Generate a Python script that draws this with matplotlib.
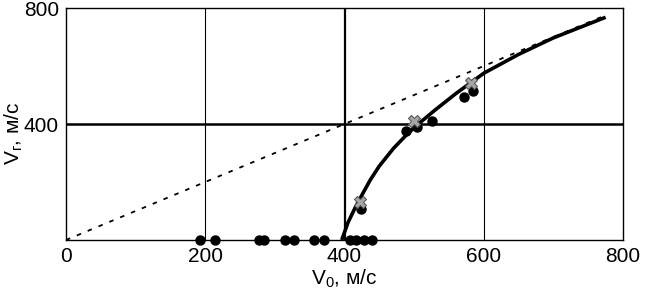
import matplotlib
matplotlib.use("Agg")
import matplotlib.pyplot as plt

plt.rcParams["font.family"] = ["Liberation Sans", "DejaVu Sans"]
plt.rcParams["mathtext.fontset"] = "custom"
plt.rcParams["mathtext.rm"] = "Liberation Sans"
plt.rcParams["mathtext.it"] = "Liberation Sans"

# fitted curve
curve_v0 = [396, 405, 415, 425, 437, 450, 470, 490, 506, 530, 560, 600, 650, 700, 775]
curve_vr = [0, 60, 110, 155, 207, 255, 315, 365, 400, 448, 505, 575, 640, 697, 768]

# dashed reference line Vr = V0
ref_v0 = [0, 775]
ref_vr = [0, 775]

# experiment: no residual velocity
zero_v0 = [192, 214, 277, 285, 315, 327, 356, 371, 408, 417, 428, 440]
zero_vr = [0] * len(zero_v0)

# experiment: with residual velocity
hit_v0 = [424, 488, 504, 525, 572, 584]
hit_vr = [106, 376, 391, 409, 494, 513]

# calculated points (crosses)
calc_v0 = [422, 500, 582]
calc_vr = [132, 410, 540]

fig = plt.figure(figsize=(6.45, 2.99), dpi=100)
ax = fig.add_axes([66 / 645, 1 - 240 / 299, (623 - 66) / 645, (240 - 8) / 299])

for x in (200, 600):
    ax.axvline(x, color="black", linewidth=0.8, zorder=1)
ax.axvline(400, color="black", linewidth=1.6, zorder=1)
ax.axhline(400, color="black", linewidth=1.8, zorder=1)

ax.plot(ref_v0, ref_vr, color="black", linewidth=1.3, linestyle=(0, (2.5, 4)), zorder=2)
ax.plot(curve_v0, curve_vr, color="black", linewidth=2.6, solid_capstyle="butt",
        solid_joinstyle="round", zorder=3)
ax.plot(zero_v0, zero_vr, "o", color="black", markersize=6.5, zorder=4, clip_on=False)
ax.plot(hit_v0, hit_vr, "o", color="black", markersize=6.5, zorder=4)
ax.plot(calc_v0, calc_vr, "X", markerfacecolor="0.65", markeredgecolor="0.35",
        markeredgewidth=0.8, markersize=9, zorder=5)

ax.set_xlim(0, 800)
ax.set_ylim(0, 800)
ax.set_xticks([0, 200, 400, 600, 800])
ax.set_yticks([400, 800])
ax.tick_params(length=0, labelsize=15, pad=5)
for s in ax.spines.values():
    s.set_linewidth(1.0)

ax.set_xlabel("V$_\\mathregular{0}$, м/с", fontsize=15, labelpad=1)
fig.text(14 / 645, 1 - 133 / 299, "V$_\\mathregular{г}$, м/с", fontsize=15,
         rotation=90, ha="center", va="center")

fig.savefig("out.png", dpi=100)
